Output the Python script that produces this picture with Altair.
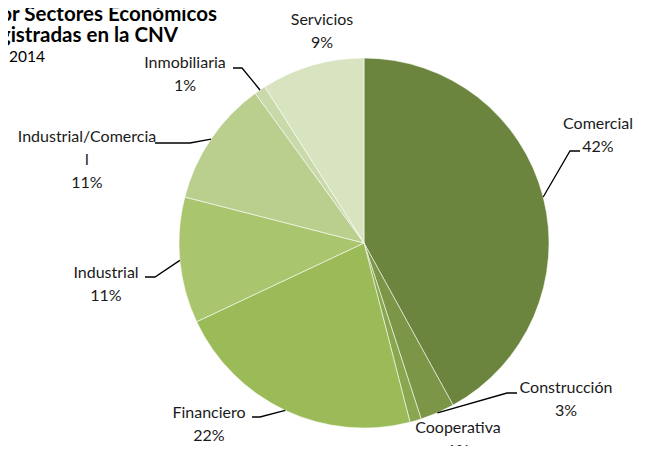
import math
import altair as alt
import pandas as pd

# ---------------- data ----------------
categories = ["Comercial", "Construcción", "Cooperativa", "Financiero",
              "Industrial", "Industrial/Comercial", "Inmobiliaria", "Servicios"]
values = [42, 3, 1, 22, 11, 11, 1, 9]
colors = ["#6B853E", "#7A9646", "#89A74F", "#9BBB59",
          "#A9C66F", "#BACF8E", "#C9D9A9", "#D8E4C0"]
# how each category name is wrapped in its label
label_wrap = {"Industrial/Comercial": ["Industrial/Comercia", "l"]}
title_lines = ["por Sectores Económicos", "Registradas en la CNV", "de 2014"]

# ---------------- layout (pixels) ----------------
W, H = 634, 438
CX, CY, R = 356, 235, 185
FONT = "Lato"
LINE_GAP = 23
# label anchor (centre of first text line) and leader-line bends, per category
label_layout = {
    "Comercial":            {"anchor": (590, 116), "bends": [(562, 143), (572, 143)]},
    "Construcción":         {"anchor": (558, 380), "bends": [(499, 385), (509, 385)]},
    "Cooperativa":          {"anchor": (450, 420), "bends": []},
    "Financiero":           {"anchor": (201, 405), "bends": [(252, 409), (244, 409)]},
    "Industrial":           {"anchor": (98, 265),  "bends": [(147, 269), (137, 269)]},
    "Industrial/Comercial": {"anchor": (79, 129),  "bends": [(182, 135), (147, 135)]},
    "Inmobiliaria":         {"anchor": (177, 55),  "bends": [(234, 60), (225, 60)]},
    "Servicios":            {"anchor": (314, 12),  "bends": []},
}
title_layout = [  # (right x, baseline y, size, weight)
    (209, 13, 20.5, "bold"),
    (170, 34, 20.5, "bold"),
    (37, 54, 15.5, "normal"),
]

# ---------------- derived tables ----------------
total = sum(values)
pie_df = pd.DataFrame({"cat": categories, "val": values, "idx": range(len(values))})

text_rows, line_rows = [], []
start = 0.0
for i, (c, v) in enumerate(zip(categories, values)):
    mid = (start + v / 2.0) / total * 2 * math.pi
    start += v
    ex, ey = CX + R * math.sin(mid), CY - R * math.cos(mid)
    pct = f"{round(v / total * 100)}%"
    lines = label_wrap.get(c, [c]) + [pct]
    ax, ay = label_layout[c]["anchor"]
    for j, t in enumerate(lines):
        text_rows.append({"t": t, "px": ax, "py": ay + j * LINE_GAP})
    bends = label_layout[c]["bends"]
    if bends:
        pts = [(ex, ey)] + bends
        for k, (px, py) in enumerate(pts):
            line_rows.append({"cat": c, "k": k, "px": px, "py": py})

text_df = pd.DataFrame(text_rows)
line_df = pd.DataFrame(line_rows)

# ---------------- chart ----------------
pie = alt.Chart(pie_df).mark_arc(
    outerRadius=R, stroke="#ffffff", strokeWidth=0.8, strokeOpacity=0.7
).encode(
    theta=alt.Theta("val:Q", stack=True),
    color=alt.Color("cat:N", scale=alt.Scale(domain=categories, range=colors),
                    sort=categories, legend=None),
    order=alt.Order("idx:Q"),
    x=alt.value(CX),
    y=alt.value(CY),
)

leaders = alt.Chart(line_df).mark_line(color="#000000", strokeWidth=1.3).encode(
    x=alt.X("px:Q", scale=None, axis=None),
    y=alt.Y("py:Q", scale=None, axis=None),
    detail="cat:N",
    order="k:Q",
)

labels = alt.Chart(text_df).mark_text(
    font=FONT, fontSize=16, color="#1a1a1a", align="center", baseline="middle"
).encode(
    x=alt.X("px:Q", scale=None, axis=None),
    y=alt.Y("py:Q", scale=None, axis=None),
    text="t:N",
)

title_layers = []
for t, (rx, by, fs, fw) in zip(title_lines, title_layout):
    title_layers.append(
        alt.Chart(pd.DataFrame({"t": [t], "px": [rx], "py": [by]})).mark_text(
            font=FONT, fontSize=fs, fontWeight=fw, color="#000000",
            align="right", baseline="alphabetic"
        ).encode(
            x=alt.X("px:Q", scale=None, axis=None),
            y=alt.Y("py:Q", scale=None, axis=None),
            text="t:N",
        )
    )

chart = alt.layer(pie, leaders, labels, *title_layers).properties(
    width=W, height=H, padding=0, background="#ffffff",
    autosize=alt.AutoSizeParams(type="none")
).configure_view(stroke=None, strokeWidth=0)

chart.save("out.html", embed_options={"renderer": "svg", "actions": False})
